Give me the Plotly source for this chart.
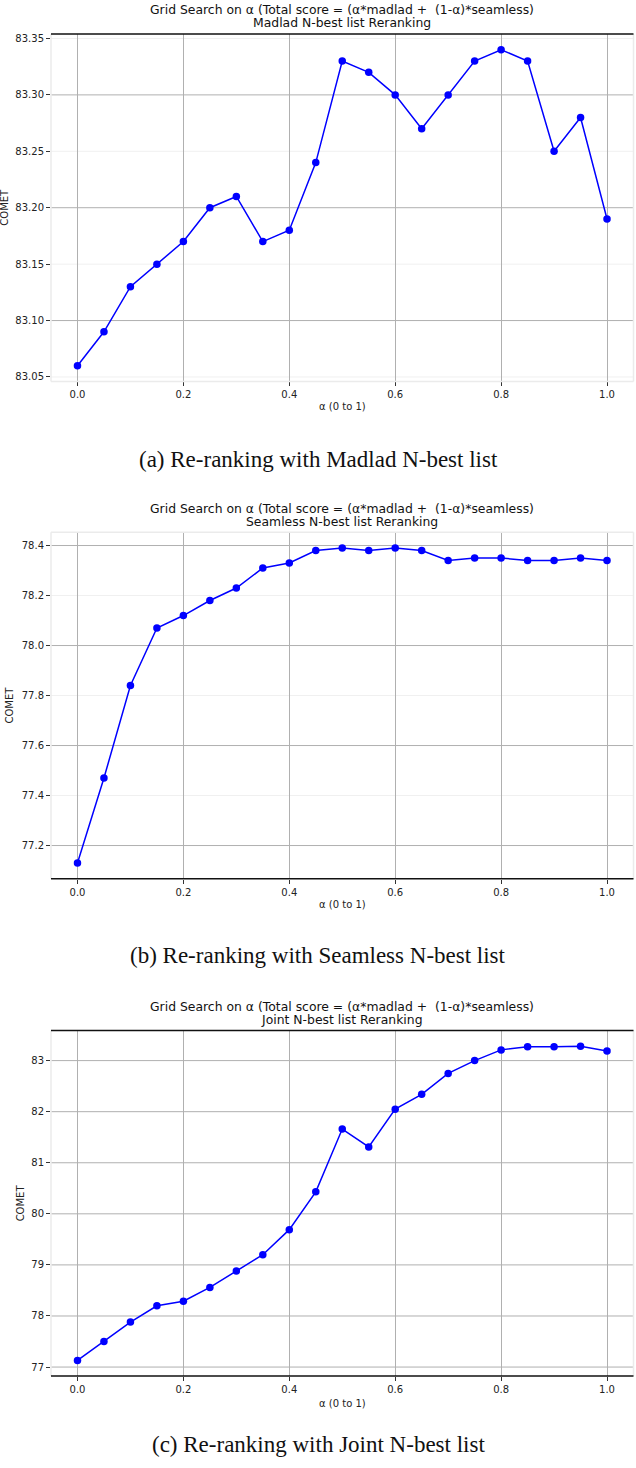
import plotly.graph_objects as go

alpha = [0.0, 0.05, 0.1, 0.15, 0.2, 0.25, 0.3, 0.35, 0.4, 0.45, 0.5,
         0.55, 0.6, 0.65, 0.7, 0.75, 0.8, 0.85, 0.9, 0.95, 1.0]
madlad = [83.06, 83.09, 83.13, 83.15, 83.17, 83.20, 83.21, 83.17, 83.18, 83.24, 83.33,
          83.32, 83.30, 83.27, 83.30, 83.33, 83.34, 83.33, 83.25, 83.28, 83.19]
seamless = [77.13, 77.47, 77.84, 78.07, 78.12, 78.18, 78.23, 78.31, 78.33, 78.38, 78.39,
            78.38, 78.39, 78.38, 78.34, 78.35, 78.35, 78.34, 78.34, 78.35, 78.34]
joint = [77.13, 77.50, 77.88, 78.20, 78.29, 78.56, 78.88, 79.20, 79.69, 80.43, 81.66,
         81.31, 82.05, 82.34, 82.75, 83.00, 83.21, 83.27, 83.27, 83.28, 83.19]

title_line1 = "Grid Search on α (Total score = (α*madlad +  (1-α)*seamless)"
subtitles = ["Madlad N-best list Reranking", "Seamless N-best list Reranking", "Joint N-best list Reranking"]
captions = ["(a) Re-ranking with Madlad N-best list", "(b) Re-ranking with Seamless N-best list",
            "(c) Re-ranking with Joint N-best list"]
x_ticks = [0.0, 0.2, 0.4, 0.6, 0.8, 1.0]
y_ticks = [
    [83.05, 83.10, 83.15, 83.20, 83.25, 83.30, 83.35],
    [77.2, 77.4, 77.6, 77.8, 78.0, 78.2, 78.4],
    [77, 78, 79, 80, 81, 82, 83],
]
# gridlines that look faint in the reference (scan artefact)
faint_grid = [
    [83.05, 83.15, 83.25, 83.35],
    [77.4, 77.8, 78.2],
    [],
]
y_fmt = [".2f", ".1f", "d"]
series = [madlad, seamless, joint]

H = 1468
W = 636
panels = [(33, 381), (532, 879), (1031, 1377)]
dark_sides = [(True, False), (False, True), (True, True)]
xlab_off = [25, 26, 27]
cap_off = [78, 77, 68]
x_left, x_right = 51, 633.5

fig = go.Figure()
font = "DejaVu Sans"
GRID = "#b0b0b0"
FAINT = "#f0f0f0"
FRAME = "#ebebeb"

for i, (vals, (top, bot)) in enumerate(zip(series, panels)):
    n = "" if i == 0 else str(i + 1)
    xa = "x" + n
    ya = "y" + n
    lo, hi = min(vals), max(vals)
    pad = (hi - lo) * 0.05
    dom_y = [1 - bot / H, 1 - top / H]
    fig.layout["xaxis" + n] = dict(
        domain=[x_left / W, x_right / W], anchor=ya, range=[-0.05, 1.05],
        tickvals=x_ticks, ticktext=[f"{v:.1f}" for v in x_ticks],
        showgrid=True, gridcolor=GRID, gridwidth=1, zeroline=False,
        showline=False,
        ticks="outside", ticklen=4, tickcolor="#333",
        tickfont=dict(family=font, size=10, color="#222"),
    )
    fig.layout["yaxis" + n] = dict(
        domain=dom_y, anchor=xa, range=[lo - pad, hi + pad],
        tickvals=y_ticks[i], tickformat=y_fmt[i],
        showgrid=False, zeroline=False, showline=False,
        ticks="outside", ticklen=4, tickcolor="#333",
        tickfont=dict(family=font, size=10, color="#222"),
    )
    for t in y_ticks[i]:
        fig.add_shape(type="line", xref=xa + " domain", yref=ya, x0=0, x1=1, y0=t, y1=t,
                      line=dict(color=FAINT if t in faint_grid[i] else GRID, width=1),
                      layer="below")
    dtop, dbot = dark_sides[i]
    fig.add_shape(type="line", xref=xa + " domain", yref=ya + " domain", x0=0, x1=0, y0=0, y1=1,
                  line=dict(color=FRAME, width=1.5), layer="below")
    fig.add_shape(type="line", xref=xa + " domain", yref=ya + " domain", x0=1, x1=1, y0=0, y1=1,
                  line=dict(color=FRAME, width=1.5), layer="below")
    fig.add_shape(type="line", xref=xa + " domain", yref=ya + " domain", x0=0, x1=1, y0=1, y1=1,
                  line=dict(color="#111" if dtop else FRAME, width=1.5))
    fig.add_shape(type="line", xref=xa + " domain", yref=ya + " domain", x0=0, x1=1, y0=0, y1=0,
                  line=dict(color="#111" if dbot else FRAME, width=1.5))

    fig.add_trace(go.Scatter(
        x=alpha, y=vals, mode="lines+markers", xaxis=xa, yaxis=ya,
        line=dict(color="#0000ff", width=1.5),
        marker=dict(color="#0000ff", size=7.5),
        showlegend=False, cliponaxis=False, hoverinfo="skip",
    ))

    cx = (x_left + x_right) / 2 / W
    fig.add_annotation(text=title_line1, x=cx, y=1 - (top - 24) / H,
                       xref="paper", yref="paper", showarrow=False,
                       font=dict(family=font, size=12.4, color="#111"), yanchor="middle")
    fig.add_annotation(text=subtitles[i], x=cx, y=1 - (top - 11) / H,
                       xref="paper", yref="paper", showarrow=False,
                       font=dict(family=font, size=12.4, color="#111"), yanchor="middle")
    fig.add_annotation(text="α (0 to 1)", x=cx, y=1 - (bot + xlab_off[i]) / H,
                       xref="paper", yref="paper", showarrow=False,
                       font=dict(family=font, size=10, color="#222"), yanchor="middle")
    ylab_x = [5, 10, 20][i]
    fig.add_annotation(text="COMET", x=ylab_x / W, y=1 - (top + bot) / 2 / H,
                       xref="paper", yref="paper", showarrow=False, textangle=-90,
                       font=dict(family=font, size=10, color="#222"),
                       xanchor="center", yanchor="middle")
    fig.add_annotation(text=captions[i], x=0.5, y=1 - (bot + cap_off[i]) / H,
                       xref="paper", yref="paper", showarrow=False,
                       font=dict(family="Liberation Serif", size=23, color="#111"),
                       yanchor="middle")

fig.update_layout(
    width=W, height=H, margin=dict(l=0, r=0, t=0, b=0),
    paper_bgcolor="white", plot_bgcolor="white",
)
fig.write_html("out.html", config={"displayModeBar": False})

with open("out.html", "r", encoding="utf-8") as f:
    html = f.read()
html = html.replace("<body>", '<body style="margin:0;overflow:hidden">', 1)
with open("out.html", "w", encoding="utf-8") as f:
    f.write(html)
